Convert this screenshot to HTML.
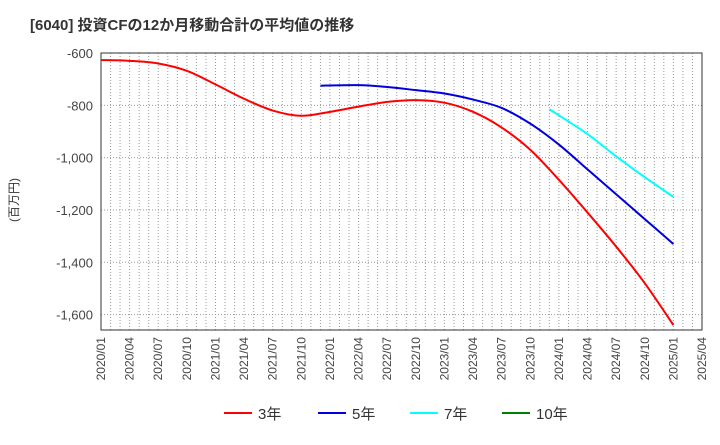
<!DOCTYPE html>
<html><head><meta charset="utf-8"><style>
body{margin:0;background:#fff;font-family:"Liberation Sans","Noto Sans CJK JP",sans-serif;}
svg text{font-family:"Liberation Sans","Noto Sans CJK JP",sans-serif;}
</style></head><body>
<svg id="c" width="720" height="440" xmlns="http://www.w3.org/2000/svg">
<text x="30" y="30" font-size="15" font-weight="bold" fill="#333">[6040]  投資CFの12か月移動合計の平均値の推移</text>
<text transform="translate(18,200) rotate(-90)" text-anchor="middle" font-size="12" fill="#333">(百万円)</text>
<g id="grid"></g><g id="axes"></g><g id="series"></g><g id="legend"></g>
</svg>
<script>
const yTicks=[-600,-800,-1000,-1200,-1400,-1600];
const yTickLabels=["-600","-800","-1,000","-1,200","-1,400","-1,600"];
const xTickLabels=["2020/01","2020/04","2020/07","2020/10","2021/01","2021/04","2021/07","2021/10","2022/01","2022/04","2022/07","2022/10","2023/01","2023/04","2023/07","2023/10","2024/01","2024/04","2024/07","2024/10","2025/01","2025/04"];
// months since 2020/01
const m3=[0,3,6,9,12,15,18,21,24,27,30,33,36,39,42,45,48,51,54,57,60];
const v3=[-627,-630,-640,-668,-720,-775,-820,-840,-825,-805,-787,-780,-790,-825,-885,-970,-1085,-1210,-1340,-1480,-1640];
const m5=[23,27,30,33,36,39,42,45,48,51,54,57,60];
const v5=[-725,-723,-730,-742,-755,-778,-810,-870,-950,-1045,-1140,-1235,-1330];
const m7=[47,51,54,57,60];
const v7=[-815,-910,-995,-1075,-1150];
const NS="http://www.w3.org/2000/svg";
const L=101,R=702,T=53,B=330,YMAX=-600,YMIN=-1659,XMAX=63;
const x=m=>L+(R-L)*m/XMAX, y=v=>T+(YMAX-v)/(YMAX-YMIN)*(B-T);
function mk(tag,at,par){const e=document.createElementNS(NS,tag);for(const k in at)e.setAttribute(k,at[k]);document.getElementById(par).appendChild(e);return e;}
for(let m=1;m<XMAX;m++){const e=mk('line',{x1:x(m),x2:x(m),y1:T,y2:B,stroke:'#999','stroke-dasharray':'1,2','stroke-width':1},'grid');

}
yTicks.forEach((t,i)=>{const g=mk('line',{x1:L,x2:R,y1:y(t),y2:y(t),stroke:'#999','stroke-dasharray':'1,2'},'grid');


const tx=mk('text',{x:L-8,y:y(t)+5,'text-anchor':'end','font-size':13,fill:'#444'},'axes');tx.textContent=yTickLabels[i];

});
xTickLabels.forEach((s,i)=>{const px=x(i*3);const tx=mk('text',{transform:`translate(${px+4},${B+7}) rotate(-90)`,'text-anchor':'end','font-size':12,fill:'#444'},'axes');tx.textContent=s;

});
const fr=mk('rect',{x:L,y:T,width:R-L,height:B-T,fill:'none',stroke:'#333','stroke-width':1},'axes');


function path(ms,vs){const p=ms.map((m,i)=>[x(m),y(vs[i])]);let d=`M${p[0][0]},${p[0][1]}`;
for(let i=0;i<p.length-1;i++){const p0=p[i-1]||p[i],p1=p[i],p2=p[i+1],p3=p[i+2]||p2;
d+=` C${p1[0]+(p2[0]-p0[0])/6},${p1[1]+(p2[1]-p0[1])/6} ${p2[0]-(p3[0]-p1[0])/6},${p2[1]-(p3[1]-p1[1])/6} ${p2[0]},${p2[1]}`;}return d;}
[[m3,v3,'#ff0000','series-3y'],[m5,v5,'#0000dd','series-5y'],[m7,v7,'#00ffff','series-7y']].forEach(s=>{
const e=mk('path',{d:path(s[0],s[1]),fill:'none',stroke:s[2],'stroke-width':2},'series');

});
[[224,'#ff0000','3年'],[318,'#0000dd','5年'],[410,'#00ffff','7年'],[502,'#008000','10年']].forEach(l=>{
const ln=mk('line',{x1:l[0],x2:l[0]+28,y1:413,y2:413,stroke:l[1],'stroke-width':2},'legend');


const t=mk('text',{x:l[0]+34,y:419,'font-size':15,fill:'#333'},'legend');t.textContent=l[2];

});
</script>
</body></html>
